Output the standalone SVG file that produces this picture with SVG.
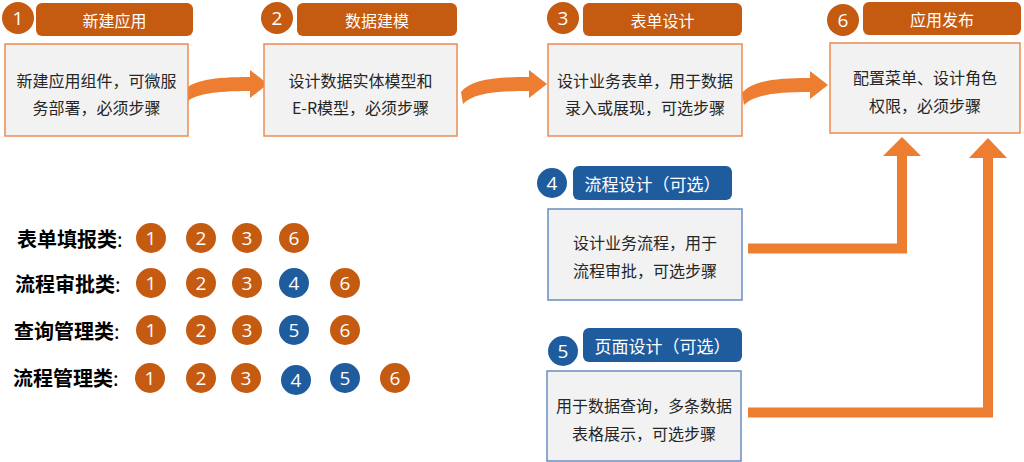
<svg xmlns="http://www.w3.org/2000/svg" width="1024" height="462" viewBox="0 0 1024 462">
<style>
.hdr-o{fill:#C55A11}
.hdr-b{fill:#1F5C9E}
.body-o{fill:#F2F2F2;stroke:#EB8C4F;stroke-width:1.5}
.body-b{fill:#F2F2F2;stroke:#6A8DC2;stroke-width:1.5}
.ht{font-family:"Noto Sans CJK SC","Noto Sans",sans-serif;fill:#FFFFFF;text-anchor:middle;dominant-baseline:central}
.bt{font-family:"Noto Sans CJK SC","Noto Sans",sans-serif;font-size:16px;fill:#262626;text-anchor:middle;dominant-baseline:central}
.num{font-family:"Open Sans","Noto Sans",sans-serif;font-size:19px;fill:#FFFFFF;text-anchor:middle;dominant-baseline:central}
.lg{font-family:"Noto Sans CJK SC","Noto Sans",sans-serif;font-size:20px;font-weight:700;fill:#000000;dominant-baseline:central}
.co{fill:#C55A11}
.cb{fill:#1F5C9E}
.arr{fill:#ED7D31}
.line{fill:none;stroke:#ED7D31;stroke-width:10;stroke-linejoin:miter}
</style>
<defs>
<path id="curved" d="M0 0 C10 -10 30 -13 66 -13 L66 -6 L84 -20 L66 -34 L66 -27 C30 -27 8 -24 -2 -12 Z"/>
</defs>

<g id="connectors">
<use href="#curved" class="arr" x="184" y="104"/>
<use href="#curved" class="arr" x="463" y="104"/>
<use href="#curved" class="arr" x="744" y="105"/>
<path class="line" d="M748 248.5 H902 V154"/>
<polygon class="arr" points="883,156 921,156 902,137"/>
<path class="line" d="M748 412.5 H988 V156"/>
<polygon class="arr" points="969,158 1007,158 988,138"/>
</g>

<g id="node1">
<rect class="hdr-o" x="36" y="3" width="157" height="33" rx="6"/>
<text class="ht" x="114.5" y="19.5" font-size="16">新建应用</text>
<circle class="co" cx="18" cy="18" r="16"/>
<text class="num" x="18" y="18">1</text>
<rect class="body-o" x="5" y="44" width="183" height="92"/>
<text class="bt" x="96.5" y="80">新建应用组件，可微服</text>
<text class="bt" x="96.5" y="107">务部署，必须步骤</text>
</g>

<g id="node2">
<rect class="hdr-o" x="297" y="3" width="160" height="33" rx="6"/>
<text class="ht" x="377" y="19.5" font-size="16">数据建模</text>
<circle class="co" cx="277" cy="18" r="16"/>
<text class="num" x="277" y="18">2</text>
<rect class="body-o" x="264" y="44" width="193" height="92"/>
<text class="bt" x="360.5" y="80">设计数据实体模型和</text>
<text class="bt" x="360.5" y="107">E-R模型，必须步骤</text>
</g>

<g id="node3">
<rect class="hdr-o" x="583" y="3" width="159" height="33" rx="6"/>
<text class="ht" x="662.5" y="19.5" font-size="16">表单设计</text>
<circle class="co" cx="563" cy="18" r="16"/>
<text class="num" x="563" y="18">3</text>
<rect class="body-o" x="548" y="44" width="194" height="92"/>
<text class="bt" x="645" y="80">设计业务表单，用于数据</text>
<text class="bt" x="645" y="107">录入或展现，可选步骤</text>
</g>

<g id="node6">
<rect class="hdr-o" x="863" y="2" width="158" height="33" rx="6"/>
<text class="ht" x="942" y="18.5" font-size="16">应用发布</text>
<circle class="co" cx="843" cy="20" r="16"/>
<text class="num" x="843" y="20">6</text>
<rect class="body-o" x="830" y="43" width="190" height="90"/>
<text class="bt" x="925" y="77">配置菜单、设计角色</text>
<text class="bt" x="925" y="105">权限，必须步骤</text>
</g>

<g id="node4">
<rect class="hdr-b" x="573" y="166" width="159" height="34" rx="6"/>
<text class="ht" x="652.5" y="183" font-size="17">流程设计（可选）</text>
<circle class="cb" cx="552" cy="183" r="15"/>
<text class="num" x="552" y="183">4</text>
<rect class="body-b" x="548" y="209" width="194" height="91"/>
<text class="bt" x="645" y="242">设计业务流程，用于</text>
<text class="bt" x="645" y="270">流程审批，可选步骤</text>
</g>

<g id="node5">
<rect class="hdr-b" x="583" y="328" width="159" height="34" rx="6"/>
<text class="ht" x="662.5" y="345" font-size="17">页面设计（可选）</text>
<circle class="cb" cx="563" cy="351" r="15"/>
<text class="num" x="563" y="351">5</text>
<rect class="body-b" x="547" y="371" width="194" height="90"/>
<text class="bt" x="644" y="405">用于数据查询，多条数据</text>
<text class="bt" x="644" y="433">表格展示，可选步骤</text>
</g>

<g id="legend">
<text class="lg" x="17" y="238">表单填报类<tspan font-weight="400">:</tspan></text>
<circle class="co" cx="151" cy="238" r="15"/><text class="num" x="151" y="238">1</text>
<circle class="co" cx="201" cy="238" r="15"/><text class="num" x="201" y="238">2</text>
<circle class="co" cx="247" cy="238" r="15"/><text class="num" x="247" y="238">3</text>
<circle class="co" cx="294" cy="238" r="15"/><text class="num" x="294" y="238">6</text>

<text class="lg" x="15" y="283">流程审批类<tspan font-weight="400">:</tspan></text>
<circle class="co" cx="151" cy="283" r="15"/><text class="num" x="151" y="283">1</text>
<circle class="co" cx="201" cy="283" r="15"/><text class="num" x="201" y="283">2</text>
<circle class="co" cx="247" cy="283" r="15"/><text class="num" x="247" y="283">3</text>
<circle class="cb" cx="294" cy="283" r="15"/><text class="num" x="294" y="283">4</text>
<circle class="co" cx="345" cy="283" r="15"/><text class="num" x="345" y="283">6</text>

<text class="lg" x="14" y="330">查询管理类<tspan font-weight="400">:</tspan></text>
<circle class="co" cx="151" cy="330" r="15"/><text class="num" x="151" y="330">1</text>
<circle class="co" cx="201" cy="330" r="15"/><text class="num" x="201" y="330">2</text>
<circle class="co" cx="247" cy="330" r="15"/><text class="num" x="247" y="330">3</text>
<circle class="cb" cx="294" cy="330" r="15"/><text class="num" x="294" y="330">5</text>
<circle class="co" cx="345" cy="330" r="15"/><text class="num" x="345" y="330">6</text>

<text class="lg" x="13" y="377">流程管理类<tspan font-weight="400">:</tspan></text>
<circle class="co" cx="150" cy="378" r="15"/><text class="num" x="150" y="378">1</text>
<circle class="co" cx="201" cy="378" r="15"/><text class="num" x="201" y="378">2</text>
<circle class="co" cx="246" cy="378" r="15"/><text class="num" x="246" y="378">3</text>
<circle class="cb" cx="296" cy="380" r="15"/><text class="num" x="296" y="380">4</text>
<circle class="cb" cx="345" cy="378" r="15"/><text class="num" x="345" y="378">5</text>
<circle class="co" cx="395" cy="378" r="15"/><text class="num" x="395" y="378">6</text>
</g>
</svg>
